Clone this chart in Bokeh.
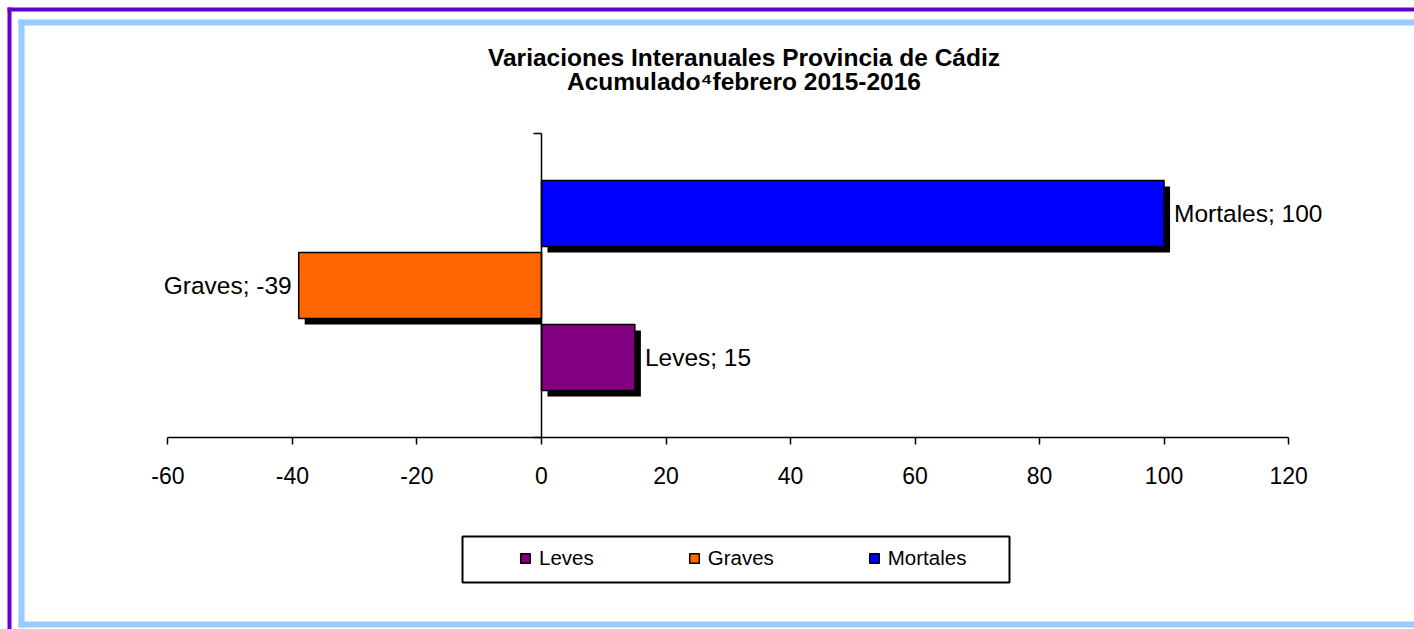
from bokeh.plotting import figure
from bokeh.models import (Range1d, FixedTicker, Legend, LegendItem, Label,
                          LinearAxis, ColumnDataSource)
from bokeh.core.properties import value
from bokeh.embed import file_html
from bokeh.resources import INLINE
import numpy as np

# ---------------- data ----------------
categories = ["Leves", "Graves", "Mortales"]
values = [15, -39, 100]
colors = ["#800080", "#FF6600", "#0000FF"]
x_ticks = [-60, -40, -20, 0, 20, 40, 60, 80, 100, 120]
title_lines = ["Variaciones Interanuales Provincia de Cádiz",
               "Acumulado\u2074febrero 2015-2016"]

# ---------------- layout (canvas pixels) ----------------
W, H = 1414, 629
X_ZERO_PX = 541.0
PX_PER_UNIT_X = (1289.3 - 168.7) / 180.0
Y_ZERO_PX = 437.0
BAND_PX = 304.0
FONT = "Liberation Sans"


def dx(cx):
    return (cx - X_ZERO_PX) / PX_PER_UNIT_X


def dy(cy):
    return (Y_ZERO_PX - cy) / BAND_PX


p = figure(width=W, height=H, output_backend="svg", toolbar_location=None,
           x_range=Range1d(dx(0), dx(W)), y_range=Range1d(dy(H), dy(0)),
           min_border=0, x_axis_type=None, y_axis_type=None,
           background_fill_color="white", border_fill_color="white")
p.outline_line_color = None

# ---------------- decorative borders ----------------
p.quad(left=[dx(7), dx(7)], right=[dx(11), dx(W + 10)],
       top=[dy(7), dy(7)], bottom=[dy(H + 10), dy(11)],
       fill_color="#6600CC", line_color=None)
p.quad(left=[dx(18), dx(18), dx(18)], right=[dx(24), dx(W + 10), dx(W + 10)],
       top=[dy(19), dy(19), dy(621)], bottom=[dy(627), dy(25), dy(627)],
       fill_color="#99CCFF", line_color=None)

# legend frame
p.quad(left=[dx(462)], right=[dx(1009)], top=[dy(536)], bottom=[dy(582)],
       fill_color="white", line_color="black", line_width=2)

# ---------------- bars ----------------
n = len(categories)
SLOT = 72.0 / BAND_PX
BAR_H = 66.0 / BAND_PX
pos = np.array([0.5 + (i - (n - 1) / 2) * SLOT for i in range(n)])
vals = np.array(values, dtype=float)
left = np.minimum(vals, 0)
right = np.maximum(vals, 0)
sdx = 6.0 / PX_PER_UNIT_X
sdy = 6.0 / BAND_PX

p.quad(left=left + sdx, right=np.where(vals > 0, right + sdx, right),
       top=pos + BAR_H / 2 - sdy, bottom=pos - BAR_H / 2 - sdy,
       fill_color="black", line_color=None)

src = ColumnDataSource(dict(y=pos, left=left, right=right, color=colors,
                            name=categories))
bars = p.hbar(y="y", left="left", right="right", height=BAR_H, source=src,
              fill_color="color", line_color="black", line_width=1.5)

# data labels
lab_src = ColumnDataSource(dict(
    x=vals, y=pos,
    text=[f"{c}; {v}" for c, v in zip(categories, values)],
    align=["left" if v > 0 else "right" for v in values],
    off=[10 if v > 0 else -7 for v in values]))
p.text(x="x", y="y", text="text", source=lab_src, text_align="align",
       x_offset="off", text_baseline="middle", text_font=value(FONT),
       text_font_size="24.5px", text_color="black")

# ---------------- axes ----------------
xaxis = LinearAxis(fixed_location=0, bounds=(-60, 120),
                   ticker=FixedTicker(ticks=x_ticks, minor_ticks=[]),
                   major_label_overrides={t: str(t) for t in x_ticks},
                   axis_line_color="black", axis_line_width=1.5,
                   major_tick_line_color="black", major_tick_line_width=1.5,
                   major_tick_in=0, major_tick_out=7,
                   minor_tick_line_color=None,
                   major_label_text_font=FONT,
                   major_label_text_font_size="23px",
                   major_label_text_color="black",
                   major_label_standoff=22)
p.add_layout(xaxis, "below")

yaxis = LinearAxis(fixed_location=0, bounds=(0, 1),
                   ticker=FixedTicker(ticks=[0, 1], minor_ticks=[]),
                   axis_line_color="black", axis_line_width=1.5,
                   major_tick_line_color="black", major_tick_line_width=1.5,
                   major_tick_in=0, major_tick_out=8,
                   minor_tick_line_color=None,
                   major_label_overrides={0: "", 1: ""})
p.add_layout(yaxis, "left")

# ---------------- title ----------------
for line, base in zip(title_lines, [57, 81]):
    p.add_layout(Label(x=dx(743.5), y=dy(base), text=line,
                       text_align="center", text_baseline="alphabetic",
                       text_font=FONT, text_font_style="bold",
                       text_font_size="24.5px", text_color="black"))

# ---------------- legend ----------------
items = [LegendItem(label=c, renderers=[bars], index=i)
         for i, c in enumerate(categories)]
legend = Legend(items=items, orientation="horizontal", location=(519, 59),
                padding=0, spacing=94, margin=0, glyph_width=12,
                glyph_height=12, label_standoff=8,
                label_text_font=FONT, label_text_font_size="20.5px",
                label_text_color="black", border_line_color=None,
                background_fill_alpha=0)
p.add_layout(legend, "center")

open("out.html", "w").write(file_html(p, INLINE))
